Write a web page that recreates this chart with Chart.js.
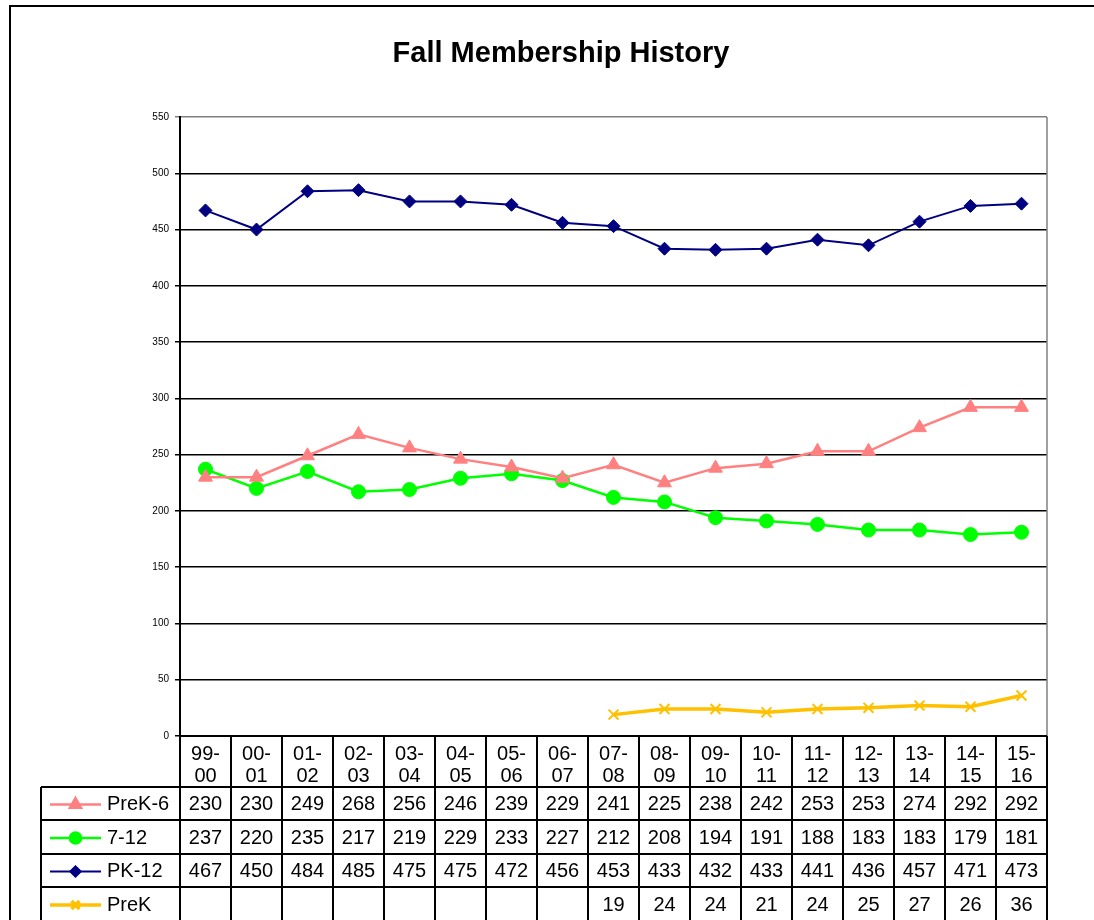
<!DOCTYPE html>
<html>
<head>
<meta charset="utf-8">
<script src="https://cdn.jsdelivr.net/npm/chart.js@4/dist/chart.umd.min.js"></script>
<style>
  html, body { margin: 0; padding: 0; background: #fff; }
  #wrap { width: 1094px; height: 920px; position: relative; }
</style>
</head>
<body>
<div id="wrap"><canvas id="fallChart" width="1094" height="920"></canvas></div>
<script>
// school years, two lines each as in the data table header
const seasons = [['99-','00'],['00-','01'],['01-','02'],['02-','03'],['03-','04'],['04-','05'],['05-','06'],['06-','07'],
                 ['07-','08'],['08-','09'],['09-','10'],['10-','11'],['11-','12'],['12-','13'],['13-','14'],['14-','15'],['15-','16']];
const preK6    = [230,230,249,268,256,246,239,229,241,225,238,242,253,253,274,292,292];
const grades712= [237,220,235,217,219,229,233,227,212,208,194,191,188,183,183,179,181];
const pk12     = [467,450,484,485,475,475,472,456,453,433,432,433,441,436,457,471,473];
const preK     = [null,null,null,null,null,null,null,null,19,24,24,21,24,25,27,26,36];
const seriesNames = ['PreK-6','7-12','PK-12','PreK'];
const yTicks = { min: 0, max: 550, step: 50 };
const chartTitle = 'Fall Membership History';

Chart.defaults.font.family = '"Liberation Sans", Arial, sans-serif';
Chart.defaults.color = '#000';

const fmt = v => (v === null ? '' : String(v));

// draws title, frame and the excel style data table under the plot
const tablePlugin = {
    id: 'dataTable',
    afterDraw(chart) {
        const ctx = chart.ctx, area = chart.chartArea, xs = chart.scales.x;
        const colW = xs.getPixelForValue(1) - xs.getPixelForValue(0);
        const left = area.left, right = area.right;
        const legLeft = 41;
        const rowTops = [area.bottom, 787, 820, 854, 887, 921];
        ctx.save();

        // outer frame
        ctx.strokeStyle = '#000'; ctx.lineWidth = 2;
        ctx.strokeRect(10, 6, 1100, 930);

        // title
        ctx.fillStyle = '#000';
        ctx.font = 'bold 29px "Liberation Sans", Arial, sans-serif';
        ctx.textAlign = 'center'; ctx.textBaseline = 'alphabetic';
        ctx.fillText(chartTitle, 561, 62);

        // plot area right border (grey)
        ctx.strokeStyle = '#808080'; ctx.lineWidth = 1.5;
        ctx.beginPath();
        ctx.moveTo(right, area.top); ctx.lineTo(right, area.bottom);
        ctx.stroke();

        // table grid
        ctx.strokeStyle = '#000'; ctx.lineWidth = 2;
        ctx.beginPath();
        ctx.moveTo(left, rowTops[0]); ctx.lineTo(right, rowTops[0]);
        for (let r = 1; r < rowTops.length; r++) {
            ctx.moveTo(legLeft, rowTops[r]); ctx.lineTo(right, rowTops[r]);
        }
        ctx.moveTo(legLeft, rowTops[1]); ctx.lineTo(legLeft, rowTops[5]);
        for (let i = 0; i <= seasons.length; i++) {
            const x = left + i * colW;
            ctx.moveTo(x, rowTops[0]); ctx.lineTo(x, rowTops[5]);
        }
        ctx.stroke();

        // header labels
        ctx.font = '20px "Liberation Sans", Arial, sans-serif';
        ctx.textAlign = 'center'; ctx.textBaseline = 'middle';
        seasons.forEach((lab, i) => {
            const x = xs.getPixelForValue(i);
            ctx.fillText(lab[0], x, 754);
            ctx.fillText(lab[1], x, 776);
        });

        // rows with legend keys
        chart.data.datasets.forEach((ds, r) => {
            const yMid = (rowTops[r + 1] + rowTops[r + 2]) / 2 + 1;
            ctx.strokeStyle = ds.borderColor; ctx.lineWidth = ds.borderWidth;
            ctx.beginPath(); ctx.moveTo(50, yMid); ctx.lineTo(101, yMid); ctx.stroke();
            ctx.fillStyle = ds.pointBackgroundColor;
            Chart.helpers.drawPoint(ctx, {
                pointStyle: ds.pointStyle, radius: ds.pointRadius * 0.8,
                rotation: 0, borderWidth: ds.pointBorderWidth
            }, 75.5, yMid);
            ctx.fillStyle = '#000';
            ctx.textAlign = 'left';
            ctx.fillText(ds.label, 107, yMid);
            ctx.textAlign = 'center';
            ds.data.forEach((v, i) => ctx.fillText(fmt(v), xs.getPixelForValue(i), yMid));
        });
        ctx.restore();
    }
};

new Chart('fallChart', {
    type: 'line',
    data: {
        labels: seasons,
        datasets: [
            { label: seriesNames[0], data: preK6, borderColor: '#FF8080', backgroundColor: '#FF8080',
              pointBackgroundColor: '#FF8080', pointBorderColor: '#FF8080', pointStyle: 'triangle',
              pointRadius: 8, pointBorderWidth: 1, borderWidth: 2.5 },
            { label: seriesNames[1], data: grades712, borderColor: '#00FF00', backgroundColor: '#00FF00',
              pointBackgroundColor: '#00FF00', pointBorderColor: '#00FF00', pointStyle: 'circle',
              pointRadius: 7, pointBorderWidth: 1, borderWidth: 2.5 },
            { label: seriesNames[2], data: pk12, borderColor: '#000080', backgroundColor: '#000080',
              pointBackgroundColor: '#000080', pointBorderColor: '#000080', pointStyle: 'rectRot',
              pointRadius: 6.5, pointBorderWidth: 1, borderWidth: 2 },
            { label: seriesNames[3], data: preK, borderColor: '#FFC000', backgroundColor: '#FFC000',
              pointBackgroundColor: '#FFC000', pointBorderColor: '#FFC000', pointStyle: 'crossRot',
              pointRadius: 7, pointBorderWidth: 2, borderWidth: 3.5 }
        ]
    },
    options: {
        responsive: false,
        animation: false,
        layout: { padding: { left: 0, top: 117, right: 47, bottom: 184 } },
        plugins: { legend: { display: false }, tooltip: { enabled: false }, title: { display: false } },
        scales: {
            x: { display: false, offset: true, grid: { display: false } },
            y: {
                min: yTicks.min, max: yTicks.max,
                afterFit(scale) { scale.width = 180; },
                ticks: { stepSize: yTicks.step, font: { size: 10 }, padding: 6, color: '#000' },
                grid: {
                    color: ctx => (ctx.tick && ctx.tick.value === yTicks.max ? '#808080' : '#000'),
                    lineWidth: 1.5, tickLength: 5
                },
                border: { color: '#000', width: 2 }
            }
        }
    },
    plugins: [tablePlugin]
});
</script>
</body>
</html>
